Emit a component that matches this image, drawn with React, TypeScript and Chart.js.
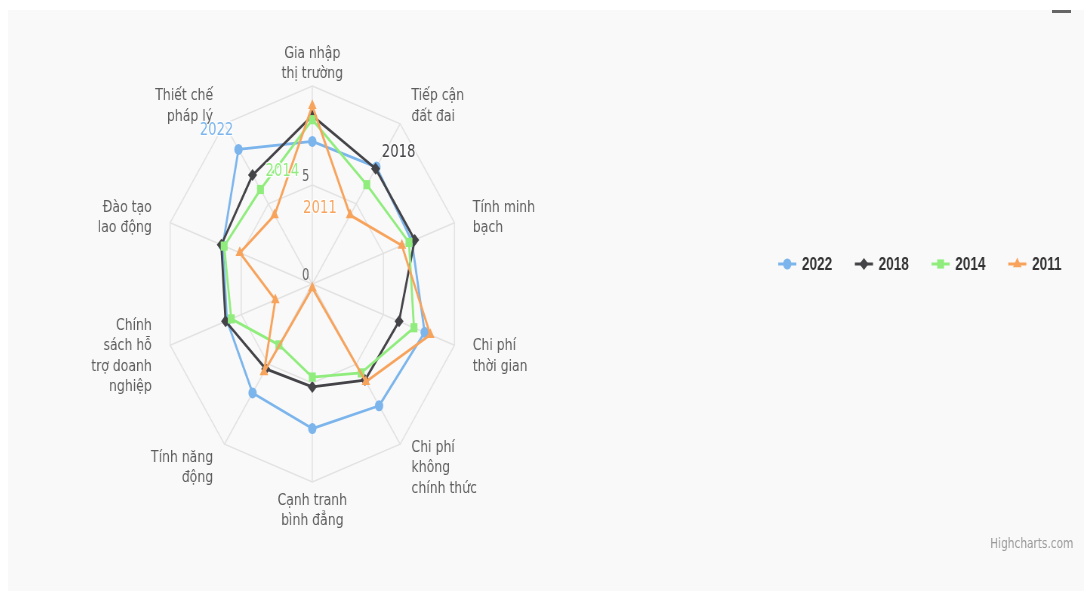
import React, { useEffect, useRef } from 'react';
import { Chart, registerables } from 'chart.js';

Chart.register(...registerables);

// ---------- data ----------
const categories: string[][] = [
  ['Gia nhập', 'thị trường'],
  ['Tiếp cận', 'đất đai'],
  ['Tính minh', 'bạch'],
  ['Chi phí', 'thời gian'],
  ['Chi phí', 'không', 'chính thức'],
  ['Cạnh tranh', 'bình đẳng'],
  ['Tính năng', 'động'],
  ['Chính', 'sách hỗ', 'trợ doanh', 'nghiệp'],
  ['Đào tạo', 'lao động'],
  ['Thiết chế', 'pháp lý'],
];
const values2022 = [7.2, 7.3, 7.0, 7.9, 7.6, 7.3, 6.8, 6.0, 6.3, 8.4];
const values2018 = [8.5, 7.2, 7.2, 6.1, 6.0, 5.2, 5.3, 6.1, 6.4, 6.8];
const values2014 = [8.3, 6.2, 6.8, 7.15, 5.55, 4.7, 3.8, 5.7, 6.2, 5.9];
const values2011 = [9.0, 4.3, 6.3, 8.3, 6.1, 0.2, 5.5, 2.6, 5.1, 4.3];
const seriesNames = ['2022', '2018', '2014', '2011'];
const axisMin = 0;
const axisMax = 10;
const axisStep = 5;
const creditText = 'Highcharts.com';

// ---------- styles ----------
const COLORS = ['#7cb5ec', '#434348', '#90ed7d', '#f7a35c'];
const MARKERS = ['circle', 'rectRot', 'rect', 'triangle'];
const MARKER_R = [5.5, 6, 6.5, 6.5];
const CANVAS_W = 1425;
const CANVAS_H = 581;
const SQUISHED_W = 1076;
// which point of each series carries its name, and offset from it
const NAME_LABELS = [
  { series: 0, point: 9, dx: -29, dy: -18.5 },
  { series: 1, point: 1, dx: 30.5, dy: -16.5 },
  { series: 2, point: 9, dx: 29, dy: -18.5 },
  { series: 3, point: 1, dx: -40, dy: -7 },
];

function drawMarker(ctx: CanvasRenderingContext2D, style: string, x: number, y: number, r: number) {
  ctx.beginPath();
  if (style === 'circle') {
    ctx.arc(x, y, r, 0, Math.PI * 2);
  } else if (style === 'rectRot') {
    ctx.moveTo(x, y - r);
    ctx.lineTo(x + r, y);
    ctx.lineTo(x, y + r);
    ctx.lineTo(x - r, y);
    ctx.closePath();
  } else if (style === 'rect') {
    const s = r * Math.SQRT1_2;
    ctx.rect(x - s, y - s, 2 * s, 2 * s);
  } else {
    for (let k = 0; k < 3; k++) {
      const a = (k * 2 * Math.PI) / 3;
      const px = x + Math.sin(a) * r;
      const py = y - Math.cos(a) * r;
      if (k === 0) ctx.moveTo(px, py);
      else ctx.lineTo(px, py);
    }
    ctx.closePath();
  }
  ctx.fill();
}

const decorPlugin = {
  id: 'hcDecor',
  beforeDatasetsDraw(chart: any) {
    const scale = chart.scales.r;
    const ctx: CanvasRenderingContext2D = chart.ctx;
    ctx.save();
    // y-axis tick labels
    ctx.font = '15px "DejaVu Sans"';
    ctx.fillStyle = '#666666';
    ctx.textAlign = 'right';
    ctx.textBaseline = 'middle';
    scale.ticks.forEach((t: any) => {
      if (t.value >= scale.max) return;
      const p = scale.getPointPositionForValue(0, t.value);
      ctx.fillText(String(t.value), p.x - 4, p.y - 7.5);
    });
    // category labels
    ctx.font = '16.5px "DejaVu Sans"';
    ctx.fillStyle = '#5c5c5c';
    const labels = chart.data.labels as any[];
    const n = labels.length;
    labels.forEach((lab, i) => {
      const lines: string[] = Array.isArray(lab) ? lab : [lab];
      const p = scale.getPointPosition(i, scale.drawingArea + 25.5);
      const deg = Math.round((360 * i) / n) % 360;
      ctx.textAlign = deg === 0 || deg === 180 ? 'center' : deg < 180 ? 'left' : 'right';
      const lh = 20.5;
      const cy = p.y + 3;
      lines.forEach((ln, k) => {
        ctx.fillText(ln, p.x, cy + (k - (lines.length - 1) / 2) * lh);
      });
    });
    ctx.restore();
  },
  afterDatasetsDraw(chart: any) {
    const ctx: CanvasRenderingContext2D = chart.ctx;
    ctx.save();
    ctx.font = '17.5px "DejaVu Sans"';
    ctx.textAlign = 'center';
    ctx.textBaseline = 'middle';
    ctx.lineJoin = 'round';
    NAME_LABELS.forEach((s) => {
      const meta = chart.getDatasetMeta(s.series);
      const el = meta.data[s.point];
      if (!el) return;
      const x = el.x + s.dx;
      const y = el.y + s.dy;
      const txt = chart.data.datasets[s.series].label;
      ctx.strokeStyle = 'rgba(255,255,255,0.9)';
      ctx.lineWidth = 2.5;
      ctx.strokeText(txt, x, y);
      ctx.fillStyle = COLORS[s.series];
      ctx.fillText(txt, x, y);
    });
    ctx.restore();
  },
  afterDraw(chart: any) {
    const ctx: CanvasRenderingContext2D = chart.ctx;
    ctx.save();
    // legend
    let x = 1020;
    const y = 254;
    ctx.font = 'bold 18px "Liberation Sans"';
    ctx.textBaseline = 'middle';
    ctx.textAlign = 'left';
    chart.data.datasets.forEach((ds: any, i: number) => {
      ctx.strokeStyle = COLORS[i];
      ctx.lineWidth = 3;
      ctx.beginPath();
      ctx.moveTo(x, y);
      ctx.lineTo(x + 24, y);
      ctx.stroke();
      ctx.fillStyle = COLORS[i];
      drawMarker(ctx, MARKERS[i], x + 12, y, MARKER_R[i]);
      ctx.fillStyle = '#333333';
      ctx.fillText(ds.label, x + 31.5, y + 1);
      x += 24 + 7.5 + ctx.measureText(ds.label).width + 30;
    });
    // credits
    ctx.font = '14px "DejaVu Sans"';
    ctx.fillStyle = '#999999';
    ctx.textAlign = 'right';
    ctx.fillText(creditText, 1411, 534);
    ctx.restore();
  },
};

export default function App() {
  const canvasRef = useRef<HTMLCanvasElement | null>(null);

  useEffect(() => {
    const canvas = canvasRef.current;
    if (!canvas) return;
    const seriesValues = [values2022, values2018, values2014, values2011];
    const chart = new Chart(canvas, {
      type: 'radar',
      data: {
        labels: categories,
        datasets: seriesNames.map((name, i) => ({
          label: name,
          data: seriesValues[i],
          order: seriesNames.length - 1 - i,
          fill: false,
          borderColor: COLORS[i],
          backgroundColor: 'rgba(0,0,0,0)',
          borderWidth: 2.8,
          borderJoinStyle: 'round' as const,
          pointStyle: MARKERS[i] as any,
          pointRadius: MARKER_R[i],
          pointBackgroundColor: COLORS[i],
          pointBorderColor: COLORS[i],
          pointBorderWidth: 0,
        })),
      },
      options: {
        responsive: false,
        animation: false,
        events: [],
        layout: { padding: { left: 205, right: 824, top: 76, bottom: 109 } },
        plugins: {
          legend: { display: false },
          tooltip: { enabled: false },
        },
        scales: {
          r: {
            min: axisMin,
            max: axisMax,
            startAngle: 0,
            ticks: { stepSize: axisStep, display: false },
            grid: { color: '#e2e2e2', lineWidth: 1.5 },
            angleLines: { color: '#e2e2e2', lineWidth: 1.5 },
            pointLabels: { display: false },
          },
        },
      },
      plugins: [decorPlugin],
    });
    return () => chart.destroy();
  }, []);

  return (
    <div
      style={{
        position: 'absolute',
        left: 8,
        top: 10,
        width: SQUISHED_W,
        height: CANVAS_H,
        background: '#f9f9f9',
        overflow: 'hidden',
      }}
    >
      <canvas
        ref={canvasRef}
        width={CANVAS_W}
        height={CANVAS_H}
        style={{ display: 'block', width: SQUISHED_W + 'px', height: CANVAS_H + 'px' }}
      />
      <div style={{ position: 'absolute', left: 1044, top: 0, width: 19, height: 3, background: '#666' }} />
    </div>
  );
}
